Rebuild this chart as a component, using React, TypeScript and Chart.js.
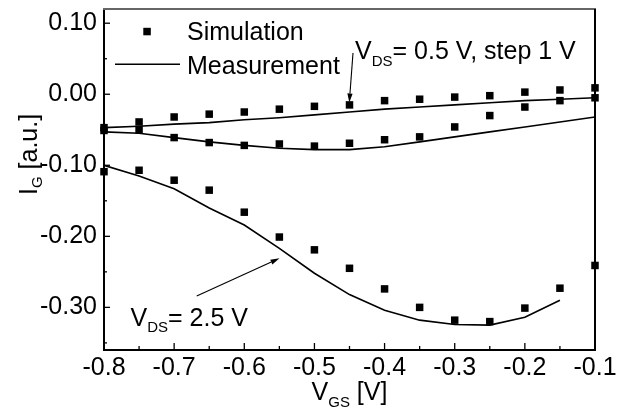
import { useEffect, useRef } from "react";
import { Chart, registerables } from "chart.js";

Chart.register(...registerables);

const FONT = '"Liberation Sans", Arial, Helvetica, sans-serif';

// Gate voltage values (x)
const VGS = [-0.8, -0.75, -0.7, -0.65, -0.6, -0.55, -0.5, -0.45, -0.4, -0.35, -0.3, -0.25, -0.2, -0.15, -0.1];

// Simulation (squares)
const SIM_05 = [-0.047, -0.039, -0.032, -0.028, -0.025, -0.021, -0.017, -0.015, -0.009, -0.007, -0.004, -0.002, 0.003, 0.006, 0.009];
const SIM_15 = [-0.051, -0.05, -0.061, -0.068, -0.072, -0.07, -0.073, -0.069, -0.064, -0.06, -0.046, -0.03, -0.018, -0.009, -0.005];
const SIM_25 = [-0.109, -0.107, -0.121, -0.135, -0.166, -0.201, -0.219, -0.245, -0.274, -0.3, -0.318, -0.32, -0.301, -0.273, -0.241];

// Measurement (lines)
const MEAS_05 = [-0.047, -0.045, -0.042, -0.04, -0.036, -0.033, -0.029, -0.025, -0.021, -0.018, -0.015, -0.012, -0.009, -0.007, -0.005];
const MEAS_15 = [-0.053, -0.055, -0.061, -0.067, -0.072, -0.076, -0.078, -0.078, -0.074, -0.067, -0.06, -0.053, -0.046, -0.039, -0.032];
const MEAS_25 = [-0.1, -0.115, -0.133, -0.16, -0.184, -0.217, -0.252, -0.282, -0.304, -0.318, -0.324, -0.325, -0.314, -0.29];

// Axis ticks
const X_TICKS = [-0.8, -0.7, -0.6, -0.5, -0.4, -0.3, -0.2, -0.1];
const X_MINOR = [-0.75, -0.65, -0.55, -0.45, -0.35, -0.25, -0.15];
const Y_TICKS = [0.1, 0, -0.1, -0.2, -0.3];
const Y_MINOR = [0.05, -0.05, -0.15, -0.25, -0.35];
const X_MIN = -0.8;
const X_MAX = -0.1;
const Y_MIN = -0.36;
const Y_MAX = 0.12;

type Part = [string, number, number];

function drawParts(ctx: CanvasRenderingContext2D, x: number, y: number, parts: Part[]) {
  let cx = x;
  for (const [text, size, dy] of parts) {
    ctx.font = `${size}px ${FONT}`;
    ctx.fillText(text, cx, y + dy);
    cx += ctx.measureText(text).width;
  }
}

function arrow(ctx: CanvasRenderingContext2D, x1: number, y1: number, x2: number, y2: number) {
  const ang = Math.atan2(y2 - y1, x2 - x1);
  const len = 9;
  const hw = 2.6;
  const bx = x2 - len * Math.cos(ang);
  const by = y2 - len * Math.sin(ang);
  ctx.beginPath();
  ctx.moveTo(x1, y1);
  ctx.lineTo(bx, by);
  ctx.lineWidth = 1.1;
  ctx.strokeStyle = "#000";
  ctx.stroke();
  ctx.beginPath();
  ctx.moveTo(x2, y2);
  ctx.lineTo(bx - hw * Math.sin(ang), by + hw * Math.cos(ang));
  ctx.lineTo(bx + hw * Math.sin(ang), by - hw * Math.cos(ang));
  ctx.closePath();
  ctx.fillStyle = "#000";
  ctx.fill();
}

const decorPlugin = {
  id: "decor",
  afterDraw(chart: any) {
    const ctx: CanvasRenderingContext2D = chart.ctx;
    const { left, right, top, bottom } = chart.chartArea;
    const xs = chart.scales.x;
    const ys = chart.scales.y;
    ctx.save();
    // top and right frame
    ctx.strokeStyle = "#666";
    ctx.lineWidth = 2;
    ctx.beginPath();
    ctx.moveTo(left - 1, top);
    ctx.lineTo(right + 1, top);
    ctx.stroke();
    ctx.strokeStyle = "#000";
    ctx.beginPath();
    ctx.moveTo(right, top);
    ctx.lineTo(right, bottom);
    ctx.stroke();

    // inward ticks
    ctx.lineWidth = 1.3;
    ctx.strokeStyle = "#000";
    const tick = (x1: number, y1: number, x2: number, y2: number) => {
      ctx.beginPath();
      ctx.moveTo(x1, y1);
      ctx.lineTo(x2, y2);
      ctx.stroke();
    };
    X_TICKS.forEach((v) => { const p = xs.getPixelForValue(v); tick(p, bottom, p, bottom - 7); });
    X_MINOR.forEach((v) => { const p = xs.getPixelForValue(v); tick(p, bottom, p, bottom - 4); });
    Y_TICKS.forEach((v) => { const p = ys.getPixelForValue(v); tick(left, p, left + 6, p); });
    Y_MINOR.forEach((v) => { const p = ys.getPixelForValue(v); tick(left, p, left + 3, p); });

    ctx.fillStyle = "#000";
    ctx.textBaseline = "alphabetic";
    ctx.textAlign = "left";

    // legend
    ctx.fillRect(143.3, 27.8, 7.5, 7.5);
    drawParts(ctx, 187, 40, [["Simulation", 25, 0]]);
    ctx.beginPath();
    ctx.lineWidth = 1.6;
    ctx.moveTo(115, 64.3);
    ctx.lineTo(180, 64.3);
    ctx.stroke();
    drawParts(ctx, 187, 74, [["Measurement", 25, 0]]);

    // annotations
    drawParts(ctx, 355, 59, [["V", 25, 0], ["DS", 15, 7], ["= 0.5 V, step 1 V", 25, 0]]);
    arrow(ctx, 353, 53, 349.3, 102.5);
    drawParts(ctx, 130.5, 326, [["V", 25, 0], ["DS", 15, 6], ["= 2.5 V", 25, 0]]);
    arrow(ctx, 196.7, 296, 279.5, 258.3);

    // x title
    ctx.font = `25px ${FONT}`;
    const w1 = ctx.measureText("V").width;
    const w3 = ctx.measureText(" [V]").width;
    ctx.font = `15px ${FONT}`;
    const w2 = ctx.measureText("GS").width;
    const cx = (left + right) / 2;
    drawParts(ctx, cx - (w1 + w2 + w3) / 2, 400, [["V", 25, 0], ["GS", 15, 7], [" [V]", 25, 0]]);

    // y title
    ctx.save();
    ctx.translate(37, 195);
    ctx.rotate(-Math.PI / 2);
    drawParts(ctx, 0, 0, [["I", 25, 0], ["G", 15, 5], [" [a.u.]", 25, 0]]);
    ctx.restore();

    ctx.restore();
  },
};

function series(ys: number[]) {
  return ys.map((y, i) => ({ x: VGS[i], y }));
}

export default function App() {
  const ref = useRef<HTMLCanvasElement>(null);
  useEffect(() => {
    const simStyle = {
      showLine: false,
      pointStyle: "rect" as const,
      pointRadius: 5.3,
      pointHoverRadius: 5.3,
      backgroundColor: "#000",
      borderColor: "#000",
      borderWidth: 0,
      clip: false as any,
    };
    const measStyle = {
      showLine: true,
      pointRadius: 0,
      borderColor: "#000",
      borderWidth: 1.6,
      tension: 0,
      fill: false,
    };
    const chart = new Chart(ref.current!, {
      type: "scatter",
      data: {
        datasets: [
          { label: "Measurement 0.5", data: series(MEAS_05), ...measStyle },
          { label: "Measurement 1.5", data: series(MEAS_15), ...measStyle },
          { label: "Measurement 2.5", data: series(MEAS_25), ...measStyle },
          { label: "Simulation 0.5", data: series(SIM_05), ...simStyle },
          { label: "Simulation 1.5", data: series(SIM_15), ...simStyle },
          { label: "Simulation 2.5", data: series(SIM_25), ...simStyle },
        ],
      },
      options: {
        responsive: false,
        animation: false,
        devicePixelRatio: 1,
        layout: { padding: { left: 0, right: 33, top: 9, bottom: 0 } },
        plugins: { legend: { display: false }, tooltip: { enabled: false } },
        scales: {
          x: {
            type: "linear",
            min: X_MIN,
            max: X_MAX,
            grid: { display: false, drawTicks: false },
            border: { display: true, color: "#000", width: 2 },
            ticks: {
              color: "#000",
              padding: 3,
              font: { family: FONT, size: 25 },
              maxRotation: 0,
              callback: (v: any) => Number(v).toFixed(1),
            },
            afterBuildTicks: (s: any) => { s.ticks = X_TICKS.map((v) => ({ value: v })); },
            afterFit: (s: any) => { s.height = 59; s.paddingLeft = 0; s.paddingRight = 0; },
          },
          y: {
            type: "linear",
            min: Y_MIN,
            max: Y_MAX,
            grid: { display: false, drawTicks: false },
            border: { display: true, color: "#000", width: 2 },
            ticks: {
              color: "#000",
              padding: 7,
              font: { family: FONT, size: 25 },
              callback: (v: any) => Number(v).toFixed(2),
            },
            afterBuildTicks: (s: any) => { s.ticks = Y_TICKS.map((v) => ({ value: v })); },
            afterFit: (s: any) => { s.width = 104; s.paddingTop = 0; s.paddingBottom = 0; },
          },
        },
      },
      plugins: [decorPlugin],
    } as any);
    return () => chart.destroy();
  }, []);
  return (
    <div style={{ position: "fixed", left: 0, top: 0, width: 628, height: 409, background: "#fff" }}>
      <canvas ref={ref} width={628} height={409} style={{ display: "block", width: 628, height: 409 }} />
    </div>
  );
}
